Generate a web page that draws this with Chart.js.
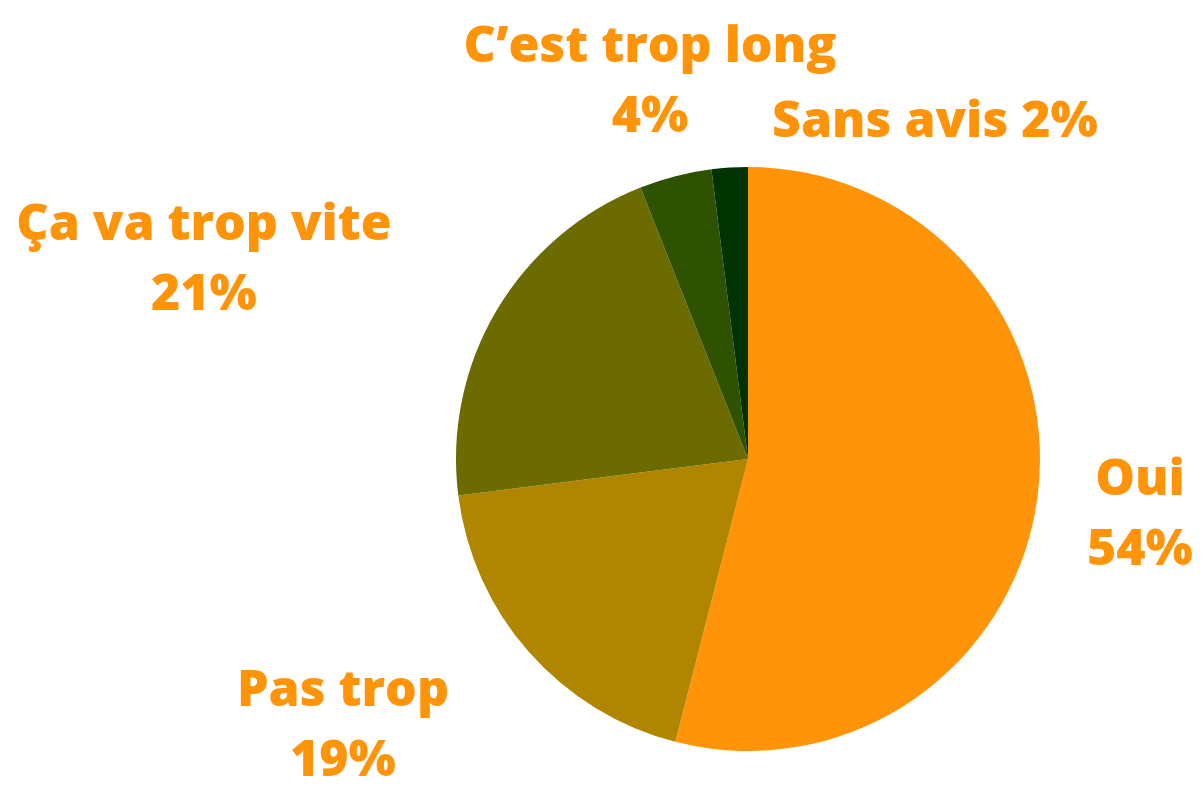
<!DOCTYPE html>
<html>
<head>
<meta charset="utf-8">
<script src="https://cdn.jsdelivr.net/npm/chart.js@4"></script>
<style>
  html, body { margin: 0; padding: 0; background: #fff; }
  #wrap { width: 1203px; height: 788px; }
</style>
</head>
<body>
<div id="wrap"><canvas id="pieChart"></canvas></div>
<script>
const labels = ['Oui', 'Pas trop', 'Ça va trop vite', 'C\u2019est trop long', 'Sans avis'];
const values = [54, 19, 21, 4, 2];
const colors = ['#FF9408', '#B08600', '#6B6B00', '#2F5200', '#003300'];

// text lines for each slice and where they sit, relative to the pie centre
const labelLines = [
    ['Oui', '54%'],
    ['Pas trop', '19%'],
    ['Ça va trop vite', '21%'],
    ['C\u2019est trop long', '4%'],
    ['Sans avis 2%']
];
const labelOffsets = [[392, 36], [-405, 247], [-544, -219], [-98, -397], [187, -322]];

const outsideLabels = {
    id: 'outsideLabels',
    afterDraw(chart) {
        const ctx = chart.ctx;
        const arc = chart.getDatasetMeta(0).data[0];
        ctx.save();
        ctx.fillStyle = '#FF9408';
        ctx.font = '800 50px "Open Sans"';
        ctx.textAlign = 'center';
        ctx.textBaseline = 'alphabetic';
        labelLines.forEach((lines, i) => {
            const x = arc.x + labelOffsets[i][0];
            let y = arc.y + labelOffsets[i][1];
            lines.forEach(line => {
                ctx.fillText(line, x, y);
                y += 70;
            });
        });
        ctx.restore();
    }
};

new Chart(document.getElementById('pieChart'), {
    type: 'pie',
    data: {
        labels: labels,
        datasets: [{
            data: values,
            backgroundColor: colors,
            borderWidth: 0
        }]
    },
    options: {
        responsive: true,
        maintainAspectRatio: false,
        animation: false,
        layout: { padding: { top: 167, bottom: 37, left: 456, right: 163 } },
        plugins: {
            legend: { display: false },
            tooltip: { enabled: false }
        }
    },
    plugins: [outsideLabels]
});
</script>
</body>
</html>
